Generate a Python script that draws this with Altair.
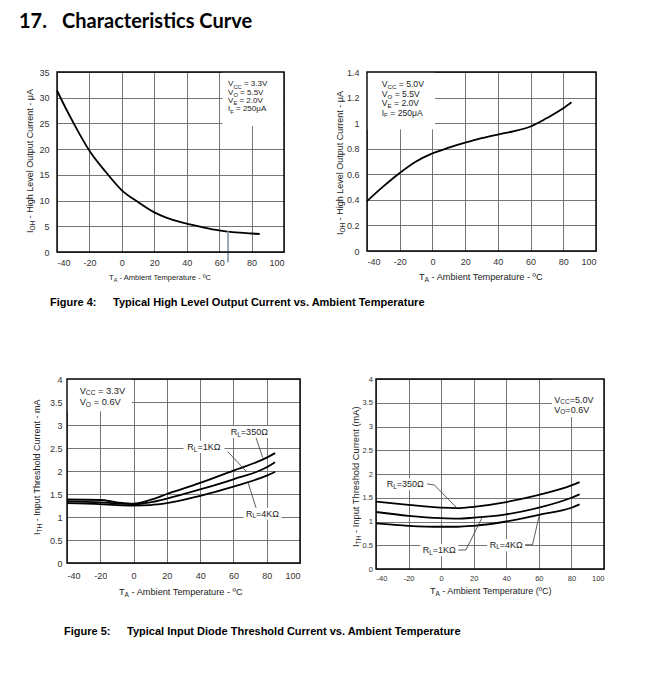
import altair as alt
import pandas as pd

# ---------------- data ----------------
x_ticks = [-40, -20, 0, 20, 40, 60, 80, 100]

fig4a_temp = [-40, -35, -30, -20, -10, 0, 10, 20, 30, 40, 50, 60, 70, 80, 85]
fig4a_ioh = [31.4, 28.2, 25.2, 19.7, 15.6, 12.0, 9.7, 7.7, 6.4, 5.5, 4.8, 4.2, 3.8, 3.6, 3.5]
fig4a_yticks = [0, 5, 10, 15, 20, 25, 30, 35]

fig4b_temp = [-40, -30, -20, -10, 0, 10, 20, 30, 40, 50, 60, 70, 80, 85]
fig4b_ioh = [0.39, 0.505, 0.61, 0.70, 0.763, 0.808, 0.847, 0.882, 0.911, 0.937, 0.974, 1.04, 1.116, 1.163]
fig4b_yticks = [0, 0.2, 0.4, 0.6, 0.8, 1, 1.2, 1.4]

fig5a_temp = [-40, -20, -10, 0, 10, 20, 40, 60, 80, 85]
fig5a_350 = [1.38, 1.37, 1.32, 1.29, 1.37, 1.50, 1.74, 2.01, 2.29, 2.39]
fig5a_1k = [1.34, 1.32, 1.29, 1.28, 1.32, 1.40, 1.60, 1.82, 2.08, 2.19]
fig5a_4k = [1.30, 1.28, 1.26, 1.25, 1.26, 1.30, 1.46, 1.66, 1.90, 1.98]

fig5b_temp = [-40, -20, 0, 10, 20, 40, 60, 80, 85]
fig5b_350 = [1.42, 1.35, 1.29, 1.28, 1.31, 1.41, 1.56, 1.76, 1.83]
fig5b_1k = [1.20, 1.12, 1.07, 1.06, 1.08, 1.15, 1.29, 1.50, 1.57]
fig5b_4k = [0.96, 0.91, 0.89, 0.89, 0.91, 1.00, 1.14, 1.29, 1.36]
fig5_yticks = [0, 0.5, 1, 1.5, 2, 2.5, 3, 3.5, 4]

# annotation texts: (text, is_subscript)
leg4a = [[("V", 0), ("CC", 1), (" = 3.3V", 0)], [("V", 0), ("O", 1), (" = 5.5V", 0)],
         [("V", 0), ("E", 1), (" = 2.0V", 0)], [("I", 0), ("F", 1), (" = 250μA", 0)]]
leg4a_y = [32.61, 30.99, 29.38, 27.77]
leg4b = [[("V", 0), ("CC", 1), (" = 5.0V", 0)], [("V", 0), ("O", 1), (" = 5.5V", 0)],
         [("V", 0), ("E", 1), (" = 2.0V", 0)], [("I", 0), ("F", 1), (" = 250μA", 0)]]
leg4b_y = [1.306, 1.227, 1.154, 1.083]
leg5a = [[("V", 0), ("CC", 1), (" = 3.3V", 0)], [("V", 0), ("O", 1), (" = 0.6V", 0)]]
leg5a_y = [3.746, 3.495]
leg5b = [[("V", 0), ("CC", 1), ("=5.0V", 0)], [("V", 0), ("O", 1), ("=0.6V", 0)]]
leg5b_y = [3.565, 3.354]
rl_names = ["=350Ω", "=1KΩ", "=4KΩ"]

# label anchors (data coords) and label boxes
lab5a_t = [69.6, 42.3, 77.5]
lab5a_v = [2.85, 2.52, 1.07]
lab5b_t = [-22.0, -1.1, 40.0]
lab5b_v = [1.79, 0.40, 0.51]

box4a = pd.DataFrame({"t": [62], "t2": [99.5], "v": [24.5], "v2": [35]})
box4b = pd.DataFrame({"t": [-40], "t2": [1.6], "v": [0.95], "v2": [1.4]})
box5a = pd.DataFrame({"t": [-40, 57.0, 30.0, 66.1], "t2": [-1.0, 82.2, 54.6, 88.9],
                      "v": [3.3, 2.72, 2.39, 0.94], "v2": [4, 2.98, 2.66, 1.20]})
box5b = pd.DataFrame({"t": [68, -34.9, -12.8, 28.3], "t2": [99.5, -8.5, 10.5, 51.6],
                      "v": [3.2, 1.66, 0.27, 0.37], "v2": [4, 1.91, 0.52, 0.63]})

lead5a = pd.DataFrame({"g": [0, 0, 1, 1, 2, 2], "o": [0, 1, 0, 1, 0, 1],
                       "t": [73.6, 77.6, 56.6, 68.0, 73.6, 68.6],
                       "v": [2.72, 2.29, 2.42, 1.98, 1.20, 1.77]})
lead5b = pd.DataFrame({"g": [0, 0, 0, 1, 1, 1, 2, 2, 2], "o": [0, 1, 2] * 3,
                       "t": [-8.5, -4.2, 9.5, 10.5, 15.2, 25.1, 51.6, 56.1, 60.2],
                       "v": [1.79, 1.77, 1.29, 0.40, 0.40, 1.08, 0.51, 0.51, 1.12]})
artifact4a = pd.DataFrame({"t": [65.5], "v": [4.0], "v2": [-2.0]})

ONE = pd.DataFrame({"k": [0]})
FONT = "Liberation Sans"

# Arial / Liberation Sans advance widths (per 1000 em)
AW = {" ": 278, "-": 333, ".": 278, ":": 278, "=": 584, "(": 333, ")": 333,
      "μ": 576, "Ω": 768, "º": 365, "°": 400}
for _c in "0123456789":
    AW[_c] = 556
AW.update(dict(A=667, B=667, C=722, D=722, E=667, F=611, G=778, H=722, I=278, J=500,
               K=667, L=556, M=833, N=722, O=778, P=667, Q=778, R=722, S=667, T=611,
               U=722, V=667, W=944, X=667, Y=667, Z=611))
AW.update(dict(a=556, b=556, c=500, d=556, e=556, f=278, g=556, h=556, i=222, j=222,
               k=500, l=222, m=833, n=556, o=556, p=556, q=556, r=333, s=500, t=278,
               u=556, v=500, w=722, x=500, y=500, z=500))


def wid(s, size):
    return sum(AW.get(c, 556) for c in s) * size / 1000.0


def rich(segs, src, enc, size, angle=0, align="left", color="#222", sub=0.72):
    """Text with subscripts, drawn as consecutive text marks sharing one anchor."""
    sizes = [size * sub if k else size for _, k in segs]
    total = sum(wid(t, s) for (t, _), s in zip(segs, sizes))
    cum = -total / 2 if align == "center" else 0.0
    out = []
    for (t, k), s in zip(segs, sizes):
        stripped = t.lstrip(" ")
        cum += wid(t[: len(t) - len(stripped)], s)
        out.append(
            alt.Chart(src)
            .mark_text(text=stripped, fontSize=s, font=FONT, color=color, angle=angle,
                       align="left", baseline="middle", dx=cum, dy=(size * 0.3 if k else 0))
            .encode(**enc)
        )
        cum += wid(stripped, s)
    return out


def px(x, y):
    return ONE, dict(x=alt.value(x), y=alt.value(y))


def plain(text, x, y, size, font=FONT, weight="bold"):
    return (
        alt.Chart(ONE)
        .mark_text(text=text, fontSize=size, font=font, fontWeight=weight, color="black",
                   align="left", baseline="alphabetic")
        .encode(x=alt.value(x), y=alt.value(y))
    )


LABEL_EXPR = "'' + datum.value"


def panel(w, h, ydom, yvals, lfs, lpx, lpy, curve_df, box_df, lead_df, extra_fn):
    xsc = alt.Scale(domain=[-40, 100], nice=False, zero=False)
    ysc = alt.Scale(domain=ydom, nice=False, zero=False)
    xax = alt.Axis(values=x_ticks, labelPadding=lpx, labelFontSize=lfs,
                   labelExpr=LABEL_EXPR, labelOverlap=False, tickCount=len(x_ticks))
    yax = alt.Axis(values=yvals, labelPadding=lpy, labelFontSize=lfs,
                   labelExpr=LABEL_EXPR, labelOverlap=False, tickCount=len(yvals))

    def X(f="t"):
        return alt.X(f"{f}:Q", scale=xsc, axis=xax, title=None)

    def Y(f="v"):
        return alt.Y(f"{f}:Q", scale=ysc, axis=yax, title=None)

    def at(t, v):
        return pd.DataFrame({"t": [t], "v": [v]}), dict(x=X(), y=Y())

    frame = pd.DataFrame({"t": [-40], "t2": [100], "v": [ydom[0]], "v2": [ydom[1]]})
    layers = [
        alt.Chart(box_df).mark_rect(color="white").encode(
            x=X(), x2=alt.X2("t2:Q", title=None), y=Y(), y2=alt.Y2("v2:Q", title=None)),
        alt.Chart(curve_df).mark_line(color="black", strokeWidth=1.8, interpolate="monotone")
        .encode(x=X(), y=Y(), detail="s:N"),
    ]
    if lead_df is not None:
        layers.append(
            alt.Chart(lead_df).mark_line(color="#333", strokeWidth=0.8)
            .encode(x=X(), y=Y(), detail="g:N", order="o:Q")
        )
    layers += extra_fn(X, Y, at)
    layers.append(
        alt.Chart(frame).mark_rect(fill="transparent", stroke="black", strokeWidth=1.4)
        .encode(x=X(), x2=alt.X2("t2:Q", title=None), y=Y(), y2=alt.Y2("v2:Q", title=None))
    )
    return alt.layer(*layers).properties(width=w, height=h)


# ---------------- panel 1: Fig 4 left ----------------
df4a = pd.DataFrame({"t": fig4a_temp, "v": fig4a_ioh, "s": "a"})


def extra1(X, Y, at):
    ex = [
        # invisible anchor that fixes the top-left corner of the whole figure
        alt.Chart(ONE).mark_rule(strokeOpacity=0, strokeWidth=1)
        .encode(x=alt.value(-48.5), x2=alt.value(-47.5), y=alt.value(-63.5)),
        alt.Chart(artifact4a).mark_rule(color="#9aa6b2", strokeWidth=2)
        .encode(x=X(), y=Y(), y2=alt.Y2("v2:Q", title=None)),
        plain("17.", -38, -44, 20, font="Lato"),
        plain("Characteristics Curve", 5, -44, 20, font="Lato"),
        plain("Figure 4:", -7, 234, 11),
        plain("Typical High Level Output Current vs. Ambient Temperature", 56, 234, 11),
    ]
    ex += rich([("I", 0), ("OH", 1), (" - High Level Output Current - μA", 0)],
               *px(-27, 161), 9, angle=270)
    ex += rich([("T", 0), ("A", 1), (" - Ambient Temperature - ºC", 0)], *px(52, 206), 7.6)
    for segs, yv in zip(leg4a, leg4a_y):
        ex += rich(segs, *at(65.5, yv), 8.0)
    return ex


p1 = panel(227, 180, [0, 35], fig4a_yticks, 9, 6, 8, df4a, box4a, None, extra1)

# ---------------- panel 2: Fig 4 right ----------------
df4b = pd.DataFrame({"t": fig4b_temp, "v": fig4b_ioh, "s": "b"})


def extra2(X, Y, at):
    ex = []
    ex += rich([("I", 0), ("OH", 1), (" - High Level Output Current - μA", 0)],
               *px(-27, 163), 9, angle=270)
    ex += rich([("T", 0), ("A", 1), (" - Ambient Temperature - ºC", 0)], *px(52, 205), 9.2)
    for segs, yv in zip(leg4b, leg4b_y):
        ex += rich(segs, *at(-31, yv), 8.6)
    return ex


p2 = panel(229, 179, [0, 1.4], fig4b_yticks, 9, 6, 8, df4b, box4b, None, extra2)

# ---------------- panel 3: Fig 5 left ----------------
df5a = pd.concat([
    pd.DataFrame({"t": fig5a_temp, "v": fig5a_350, "s": "350"}),
    pd.DataFrame({"t": fig5a_temp, "v": fig5a_1k, "s": "1k"}),
    pd.DataFrame({"t": fig5a_temp, "v": fig5a_4k, "s": "4k"}),
])


def extra3(X, Y, at):
    ex = [
        plain("Figure 5:", -3, 256, 11),
        plain("Typical Input Diode Threshold Current vs. Ambient Temperature", 60, 256, 11),
    ]
    ex += rich([("I", 0), ("TH", 1), (" - Input Threshold Current - mA", 0)],
               *px(-30, 156), 9, angle=270)
    ex += rich([("T", 0), ("A", 1), (" - Ambient Temperature - ºC", 0)], *px(52, 213), 9.2)
    for segs, yv in zip(leg5a, leg5a_y):
        ex += rich(segs, *at(-32.4, yv), 9.3)
    for name, tx, vy in zip(rl_names, lab5a_t, lab5a_v):
        ex += rich([("R", 0), ("L", 1), (name, 0)], *at(tx, vy), 9, align="center")
    return ex


p3 = panel(233, 184, [0, 4], fig5_yticks, 9, 8, 5, df5a, box5a, lead5a, extra3)

# ---------------- panel 4: Fig 5 right ----------------
df5b = pd.concat([
    pd.DataFrame({"t": fig5b_temp, "v": fig5b_350, "s": "350"}),
    pd.DataFrame({"t": fig5b_temp, "v": fig5b_1k, "s": "1k"}),
    pd.DataFrame({"t": fig5b_temp, "v": fig5b_4k, "s": "4k"}),
])


def extra4(X, Y, at):
    ex = []
    ex += rich([("I", 0), ("TH", 1), (" - Input Threshold Current (mA)", 0)],
               *px(-20, 168), 9.3, angle=270)
    ex += rich([("T", 0), ("A", 1), (" - Ambient Temperature (ºC)", 0)], *px(54, 212), 9)
    for segs, yv in zip(leg5b, leg5b_y):
        ex += rich(segs, *at(69.5, yv), 9)
    for name, tx, vy in zip(rl_names, lab5b_t, lab5b_v):
        ex += rich([("R", 0), ("L", 1), (name, 0)], *at(tx, vy), 9, align="center")
    return ex


p4 = panel(228, 190, [0, 4], fig5_yticks, 7.5, 5, 3.5, df5b, box5b, lead5b, extra4)

spacer = (
    alt.Chart(ONE).mark_point(opacity=0)
    .encode(x=alt.X("k:Q", axis=None), y=alt.Y("k:Q", axis=None))
    .properties(width=1, height=1)
)

row1 = alt.hconcat(p1, p2, spacing=83, bounds="flush")
row2 = alt.hconcat(spacer, alt.hconcat(p3, p4, spacing=76, bounds="flush"), spacing=9, bounds="flush")

# with flush bounds the nested row counts as zero height, so the spacing is
# the distance between the two rows' top edges
chart = (
    alt.vconcat(row1, row2, spacing=307, bounds="flush")
    .properties(padding=0, background="white")
    .configure_view(stroke=None)
    .configure_axis(grid=True, gridColor="#666", gridWidth=0.9, domain=False, ticks=False,
                    labelFont=FONT, labelColor="#333")
)

chart.save("out.html", embed_options={"renderer": "svg", "actions": False})
